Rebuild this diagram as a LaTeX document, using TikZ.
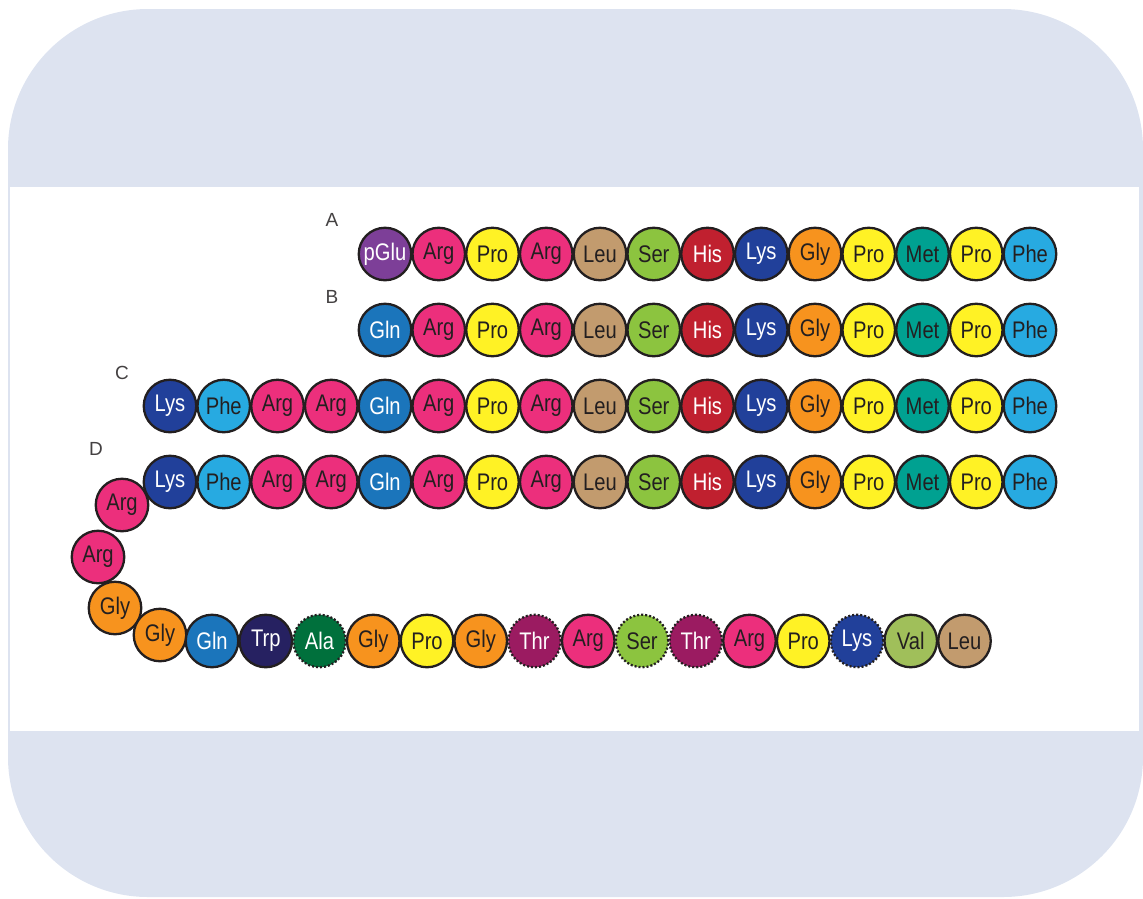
\documentclass[tikz,border=0pt]{standalone}
\usepackage{fontspec}
\setmainfont{Liberation Sans}
\newfontfamily\resfont[FakeStretch=0.84]{Liberation Sans}
\definecolor{bgblue}{HTML}{DDE3F0}
\definecolor{cpGlu}{HTML}{7D3F98}
\definecolor{cArg}{HTML}{EC2F7C}
\definecolor{cPro}{HTML}{FFF225}
\definecolor{cLeu}{HTML}{C29B6E}
\definecolor{cSer}{HTML}{8CC43F}
\definecolor{cHis}{HTML}{C0202F}
\definecolor{cLys}{HTML}{21409A}
\definecolor{cGly}{HTML}{F7931E}
\definecolor{cMet}{HTML}{00A191}
\definecolor{cPhe}{HTML}{27AAE1}
\definecolor{cGln}{HTML}{1B75BB}
\definecolor{cTrp}{HTML}{262161}
\definecolor{cAla}{HTML}{00703C}
\definecolor{cThr}{HTML}{9B1B61}
\definecolor{cVal}{HTML}{A0BF5A}
\definecolor{dtext}{HTML}{231F20}
\tikzset{
  res/.style={circle, draw=dtext, line width=2.3pt, minimum size=52.5pt, inner sep=0pt,
              font=\resfont\fontsize{24}{24}\selectfont, text=dtext},
  dotb/.style={dash pattern=on 2pt off 2pt},
  pGlu/.style={res, fill=cpGlu, text=white},
  Arg/.style={res, fill=cArg},
  Pro/.style={res, fill=cPro},
  Leu/.style={res, fill=cLeu},
  Ser/.style={res, fill=cSer},
  His/.style={res, fill=cHis, text=white},
  Lys/.style={res, fill=cLys, text=white},
  Gly/.style={res, fill=cGly},
  Met/.style={res, fill=cMet},
  Phe/.style={res, fill=cPhe},
  Gln/.style={res, fill=cGln, text=white},
  Trp/.style={res, fill=cTrp, text=white},
  Ala/.style={res, fill=cAla, text=white},
  Thr/.style={res, fill=cThr, text=white},
  Val/.style={res, fill=cVal},
  lbl/.style={font=\fontsize{19}{19}\selectfont, text=dtext!85!white}
}
\begin{document}
\begin{tikzpicture}[x=1pt, y=-1pt]
\useasboundingbox (0,0) rectangle (1143,898);
\fill[bgblue, rounded corners=140pt] (8,9) rectangle (1143,897);
\fill[white] (10,187) rectangle (1139,731);
% labels
\node[lbl] (la) at (332,220) {A};
\node[lbl] (lb) at (332,297) {B};
\node[lbl] (lc) at (122,373) {C};
\node[lbl] (ld) at (96,449) {D};
% rows A and B
\def\st{53.75}
\foreach \n [count=\i from 0] in {pGlu,Arg,Pro,Arg,Leu,Ser,His,Lys,Gly,Pro,Met,Pro,Phe}
  \node[\n] (a\i) at (385+\i*\st,254) {\n};
\foreach \n [count=\i from 0] in {Gln,Arg,Pro,Arg,Leu,Ser,His,Lys,Gly,Pro,Met,Pro,Phe}
  \node[\n] (b\i) at (385+\i*\st,330) {\n};
% rows C and D
\foreach \n [count=\i from 0] in {Lys,Phe,Arg,Arg,Gln,Arg,Pro,Arg,Leu,Ser,His,Lys,Gly,Pro,Met,Pro,Phe}
  \node[\n] (c\i) at (170+\i*\st,406) {\n};
\foreach \n [count=\i from 0] in {Lys,Phe,Arg,Arg,Gln,Arg,Pro,Arg,Leu,Ser,His,Lys,Gly,Pro,Met,Pro,Phe}
  \node[\n] (d\i) at (170+\i*\st,482) {\n};
% turn
\node[Arg] (t1) at (122,505) {Arg};
\node[Arg] (t2) at (98,557) {Arg};
\node[Gly] (t3) at (115,608) {Gly};
\node[Gly] (t4) at (160,635) {Gly};
% bottom row
\node[Gln] (e0) at (212,641) {Gln};
\node[Trp] (e1) at (212+1*\st,641) {Trp};
\node[Ala, dotb] (e2) at (212+2*\st,641) {Ala};
\node[Gly] (e3) at (212+3*\st,641) {Gly};
\node[Pro] (e4) at (212+4*\st,641) {Pro};
\node[Gly] (e5) at (212+5*\st,641) {Gly};
\node[Thr, dotb] (e6) at (212+6*\st,641) {Thr};
\node[Arg] (e7) at (212+7*\st,641) {Arg};
\node[Ser, dotb] (e8) at (212+8*\st,641) {Ser};
\node[Thr, dotb] (e9) at (212+9*\st,641) {Thr};
\node[Arg] (e10) at (212+10*\st,641) {Arg};
\node[Pro] (e11) at (212+11*\st,641) {Pro};
\node[Lys, dotb] (e12) at (212+12*\st,641) {Lys};
\node[Val] (e13) at (212+13*\st,641) {Val};
\node[Leu] (e14) at (212+14*\st,641) {Leu};
\end{tikzpicture}
\end{document}
